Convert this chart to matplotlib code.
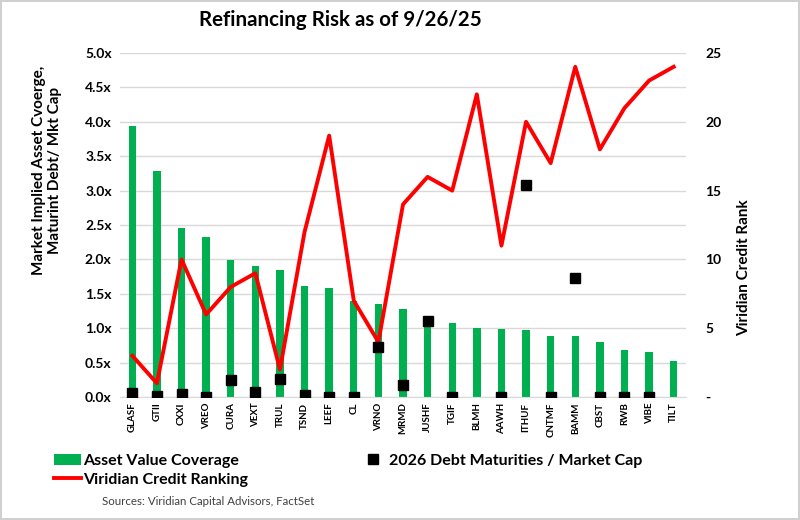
import matplotlib
matplotlib.use("Agg")
import matplotlib.pyplot as plt
from matplotlib.lines import Line2D
from matplotlib.patches import Patch
import numpy as np

plt.rcParams['font.family'] = ['Lato', 'DejaVu Sans']

tickers = ["GLASF", "GTII", "CXXI", "VREO", "CURA", "VEXT", "TRUL", "TSND", "LEEF", "CL",
           "VRNO", "MRMD", "JUSHF", "TGIF", "BLMH", "AAWH", "ITHUF", "CNTMF", "BAMM", "CBST",
           "RWB", "VIBE", "TILT"]
asset_coverage = [3.94, 3.28, 2.45, 2.32, 1.99, 1.90, 1.85, 1.61, 1.58, 1.40,
                  1.35, 1.28, 1.17, 1.07, 1.00, 0.99, 0.98, 0.89, 0.89, 0.80,
                  0.69, 0.65, 0.53]
credit_rank = [3, 1, 10, 6, 8, 9, 2, 12, 19, 7,
               4, 14, 16, 15, 22, 11, 20, 17, 24, 18,
               21, 23, 24]
debt_maturities = [0.06, 0.01, 0.05, 0.0, 0.25, 0.08, 0.26, 0.03, 0.0, 0.0,
                   0.72, 0.17, 1.10, 0.0, np.nan, 0.0, 3.08, 0.0, 1.73, 0.0,
                   0.0, 0.0, np.nan]

green = "#00B050"
red = "#FF0000"

fig = plt.figure(figsize=(8, 5.2), dpi=100)
fig.patch.set_edgecolor("#D0D0D0")
fig.patch.set_linewidth(1.5)
ax = fig.add_axes([0.15, 0.2365, 0.7075, 0.6615])
x = np.arange(len(tickers))

ax.set_axisbelow(True)
ax.yaxis.grid(True, color="#D9D9D9", linewidth=1.0)
ax.bar(x, asset_coverage, width=0.3, color=green, zorder=2)
ax.set_ylim(0, 5)
ax.set_xlim(-0.5, len(tickers) - 0.5)
ax.set_yticks(np.arange(0, 5.01, 0.5))
ax.set_yticklabels([f"{v:.1f}x" for v in np.arange(0, 5.01, 0.5)],
                   fontsize=10, fontweight="bold")
ax.set_xticks(x)
ax.set_xticklabels(tickers, rotation=90, fontsize=7, fontweight="bold")
ax.tick_params(axis="both", length=0, pad=6)
ax.tick_params(axis="x", pad=4)
for s in ["top", "right", "left"]:
    ax.spines[s].set_visible(False)
ax.spines["bottom"].set_color("#D9D9D9")
ax.set_ylabel("Market Implied Asset Cvoerge,\nMaturint Debt/ Mkt Cap",
              fontsize=11, fontweight="bold")
ax.yaxis.set_label_coords(-0.1025, 0.66)

ax2 = ax.twinx()
ax2.plot(x, credit_rank, color=red, linewidth=2.8, zorder=4)
# debt maturities are on the left (x) scale, drawn on top of the line
ax2.plot(x, debt_maturities, linestyle="none", marker="s", markersize=6.5,
         color="black", zorder=5, transform=ax.transData)
ax2.set_ylim(0, 25)
ax2.set_yticks([0, 5, 10, 15, 20, 25])
ax2.set_yticklabels(["-", "5", "10", "15", "20", "25"], fontsize=10, fontweight="bold")
ax2.tick_params(axis="y", length=0, pad=14)
for s in ["top", "right", "left", "bottom"]:
    ax2.spines[s].set_visible(False)
ax2.set_ylabel("Viridian Credit Rank", fontsize=11, fontweight="bold")
ax2.yaxis.set_label_coords(1.09, 0.375)

fig.text(0.425, 0.962, "Refinancing Risk as of 9/26/25", ha="center", va="center",
         fontsize=14.8, fontweight="bold")

handles = [Patch(facecolor=green, edgecolor="none"),
           Line2D([], [], color=red, linewidth=2.8),
           Line2D([], [], linestyle="none", marker="s", markersize=6.5, color="black")]
labels = ["Asset Value Coverage", "Viridian Credit Ranking",
          "2026 Debt Maturities / Market Cap"]
fig.legend(handles, labels, ncol=2, loc="upper left", bbox_to_anchor=(0.049, 0.155),
           bbox_transform=fig.transFigure, frameon=False,
           prop={"weight": "bold", "size": 11.5},
           handlelength=1.7, handletextpad=0.12,
           columnspacing=7.0, labelspacing=0.3)

fig.text(0.1275, 0.035, "Sources: Viridian Capital Advisors, FactSet", fontsize=8.3,
         color="#404040", ha="left", va="center")

fig.savefig("out.png", dpi=100)
